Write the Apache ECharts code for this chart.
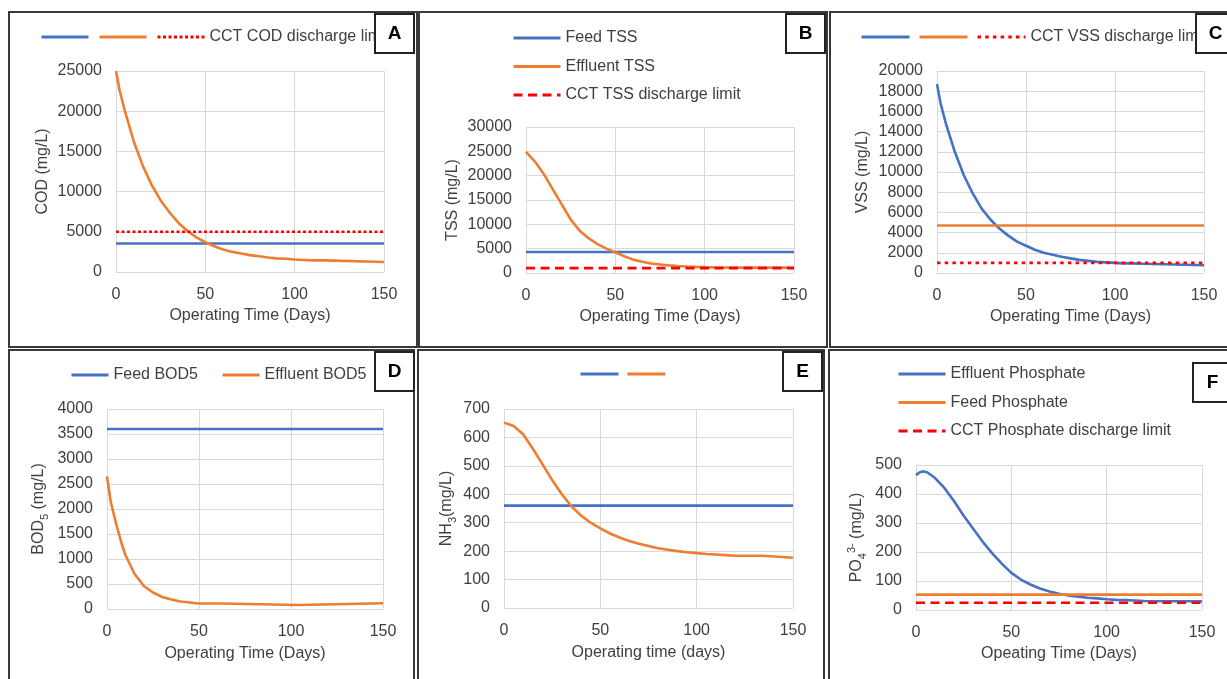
<!DOCTYPE html>
<html><head><meta charset="utf-8">
<script src="https://cdn.jsdelivr.net/npm/echarts@6/dist/echarts.min.js"></script>
<style>html,body{margin:0;padding:0;background:#fff}#c{width:1227px;height:679px}</style>
</head><body><div id="c"></div>
<script>
// ---------- DATA ----------
const xTicks = [0, 50, 100, 150];
// Panel A – COD
const codFeed = [[0, 3550], [150, 3550]];
const codLimit = [[0, 5000], [150, 5000]];
const codEffluent = [[0,25000],[2,22600],[5,20000],[10,16200],[15,13200],[20,10800],[25,8900],[30,7400],[35,6100],[40,5100],[45,4300],[50,3700],[55,3200],[60,2800],[65,2500],[70,2300],[75,2100],[80,1950],[85,1800],[90,1700],[95,1650],[100,1550],[105,1500],[110,1450],[117,1450],[118,1250],[150,1250]];
// Panel B – TSS
const tssFeed = [[0, 4300], [150, 4300]];
const tssLimit = [[0, 1000], [150, 1000]];
const tssEffluent = [[0,24900],[5,22900],[10,20300],[15,17200],[20,14100],[25,11000],[30,8700],[35,7150],[40,5950],[45,5000],[50,4250],[55,3450],[60,2750],[65,2300],[70,1950],[75,1750],[80,1570],[85,1450],[90,1340],[95,1260],[100,1200],[105,1150],[110,1120],[115,1100],[150,1100]];
// Panel C – VSS
const vssFeed = [[0, 4700], [150, 4700]];
const vssLimit = [[0, 1000], [150, 1000]];
const vssEffluent = [[0,18700],[2,16800],[5,14800],[10,12000],[15,9700],[20,7900],[25,6400],[30,5300],[35,4400],[40,3700],[45,3100],[50,2700],[55,2300],[60,2000],[65,1800],[70,1600],[75,1450],[80,1300],[85,1200],[90,1100],[95,1050],[100,1000],[105,950],[110,950],[116,920],[117,780],[150,760]];
// Panel D – BOD5
const bodFeed = [[0, 3600], [150, 3600]];
const bodEffluent = [[0,2650],[2,2150],[5,1700],[8,1300],[10,1080],[15,700],[20,460],[25,330],[30,240],[35,190],[40,150],[45,130],[50,110],[62,110],[63,80],[104,80],[105,115],[150,115]];
// Panel E – NH3
const nh3Feed = [[0, 360], [150, 360]];
const nh3Effluent = [[0,652],[5,640],[10,610],[15,560],[20,505],[25,450],[30,400],[35,358],[40,325],[45,300],[50,280],[55,262],[60,248],[65,236],[70,226],[75,218],[80,210],[85,205],[90,200],[95,196],[100,193],[105,190],[110,188],[115,186],[120,184],[134,184],[135,178],[150,177]];
// Panel F – Phosphate
const po4Feed = [[0, 53], [150, 53]];
const po4Limit = [[0, 25], [150, 25]];
const po4Effluent = [[0,465],[2,475],[4,478],[6,474],[10,455],[15,420],[20,375],[25,325],[30,280],[35,235],[40,195],[45,160],[50,128],[55,105],[60,88],[65,74],[70,64],[75,56],[80,50],[85,46],[90,42],[95,40],[100,37],[105,35],[110,34],[115,33],[120,31],[130,30],[150,30]];

// ---------- STYLE ----------
const BLUE = '#4472C4', ORANGE = '#ED7D31', RED = '#FF0000';
const FONT = 'Liberation Sans, Arial, sans-serif';
const TXT = '#404040';
const GRIDC = '#d9d9d9';

const panels = [
  {grid:{left:116, top:71, width:268, height:201}, ymax:25000, yint:5000, yname:'COD (mg/L)', ygap:65, xname:'Operating Time (Days)', xgap:36},
  {grid:{left:526, top:127, width:268, height:146}, ymax:30000, yint:5000, yname:'TSS (mg/L)', ygap:65, xname:'Operating Time (Days)', xgap:36},
  {grid:{left:937, top:71, width:267, height:202}, ymax:20000, yint:2000, yname:'VSS (mg/L)', ygap:66, xname:'Operating Time (Days)', xgap:36},
  {grid:{left:107, top:409, width:276, height:200}, ymax:4000, yint:500, yname:'{a|BOD}{sub|5}{a| (mg/L)}', ygap:57, xname:'Operating Time (Days)', xgap:37},
  {grid:{left:504, top:409, width:289, height:199}, ymax:700, yint:100, yname:'{a|NH}{sub|3}{a|(mg/L)}', ygap:46, xname:'Operating time (days)', xgap:37},
  {grid:{left:916, top:465, width:286, height:145}, ymax:500, yint:100, yname:'{a|PO}{sub|4}{sup|3-}{a| (mg/L)}', ygap:48, xname:'Opeating Time (Days)', xgap:36}
];

const richName = {
  a: {fontSize:16, fontFamily:FONT, color:TXT, lineHeight:22},
  sub: {fontSize:11, fontFamily:FONT, color:TXT, verticalAlign:'bottom', lineHeight:22, padding:[6,0,0,0]},
  sup: {fontSize:11, fontFamily:FONT, color:TXT, verticalAlign:'top', lineHeight:22, padding:[0,0,6,0]}
};

const grids = [], xAxes = [], yAxes = [];
panels.forEach((p, i) => {
  grids.push(Object.assign({containLabel:false}, p.grid));
  xAxes.push({
    type:'value', gridIndex:i, min:0, max:150, interval:50,
    axisLine:{show:false}, axisTick:{show:false},
    axisLabel:{color:TXT, fontSize:16, fontFamily:FONT, margin:15, formatter: v => String(v)},
    splitLine:{show:true, lineStyle:{color:GRIDC, width:1}},
    name:p.xname, nameLocation:'middle', nameGap:p.xgap,
    nameTextStyle:{color:TXT, fontSize:16, fontFamily:FONT}
  });
  yAxes.push({
    type:'value', gridIndex:i, min:0, max:p.ymax, interval:p.yint,
    axisLine:{show:false}, axisTick:{show:false},
    axisLabel:{color:TXT, fontSize:16, fontFamily:FONT, margin:14, formatter: v => String(v)},
    splitLine:{show:true, lineStyle:{color:GRIDC, width:1}},
    name:p.yname, nameLocation:'middle', nameGap:p.ygap, nameRotate:90,
    nameTextStyle:{color:TXT, fontSize:16, fontFamily:FONT, rich:richName}
  });
});

function line(name, idx, data, color, type, z) {
  return {
    name, type:'line', xAxisIndex:idx, yAxisIndex:idx, data,
    symbol:'none', showSymbol:false, smooth:false, z:z||2,
    lineStyle:{color, width:2.6, type:type||'solid'},
    itemStyle:{color}, animation:false
  };
}
const DOT_A = [3, 2.5], DOT_C = [3.5, 4.2], DASH = [9, 5.5];
const series = [
  line('Feed COD', 0, codFeed, BLUE),
  line('Effluent COD', 0, codEffluent, ORANGE),
  line('CCT COD discharge limit', 0, codLimit, RED, DOT_A, 3),
  line('Feed TSS', 1, tssFeed, BLUE),
  line('Effluent TSS', 1, tssEffluent, ORANGE),
  line('CCT TSS discharge limit', 1, tssLimit, RED, DASH, 3),
  line('Effluent VSS', 2, vssEffluent, BLUE),
  line('Feed VSS', 2, vssFeed, ORANGE),
  line('CCT VSS discharge limit', 2, vssLimit, RED, DOT_C, 3),
  line('Feed BOD5', 3, bodFeed, BLUE),
  line('Effluent BOD5', 3, bodEffluent, ORANGE),
  line('Feed NH3', 4, nh3Feed, BLUE),
  line('Effluent NH3', 4, nh3Effluent, ORANGE),
  line('Effluent Phosphate', 5, po4Effluent, BLUE),
  line('Feed Phosphate', 5, po4Feed, ORANGE),
  line('CCT Phosphate discharge limit', 5, po4Limit, RED, DASH, 3)
];

const hidden = {'Feed COD':1, 'Effluent COD':1, 'Effluent VSS':1, 'Feed VSS':1, 'Feed NH3':1, 'Effluent NH3':1};
function legend(data, opts) {
  return Object.assign({
    data, selectedMode:false, itemHeight:14, padding:0,
    textStyle:{color:TXT, fontSize:16, fontFamily:FONT},
    lineStyle:{width:3},
    itemStyle:{opacity:0},
    formatter: n => hidden[n] ? '' : n
  }, opts);
}
const legends = [
  legend(['Feed COD','Effluent COD','CCT COD discharge limit'], {left:40, top:29, itemWidth:47, itemGap:8}),
  legend(['Feed TSS','Effluent TSS','CCT TSS discharge limit'], {left:512, top:30, itemWidth:47, itemGap:12.5, orient:'vertical'}),
  legend(['Effluent VSS','Feed VSS','CCT VSS discharge limit'], {left:860, top:29, itemWidth:48, itemGap:7}),
  legend(['Feed BOD5','Effluent BOD5'], {left:70, top:367, itemWidth:37, itemGap:23}),
  legend(['Feed NH3','Effluent NH3'], {left:579, top:367, itemWidth:38, itemGap:6}),
  legend(['Effluent Phosphate','Feed Phosphate','CCT Phosphate discharge limit'], {left:897, top:366, itemWidth:47, itemGap:12.5, orient:'vertical'})
];

const frames = [[9,12,408,335],[419,12,408,335],[830,12,410,335],[9,350,405,340],[418,350,406,340],[829,350,411,340]];
const boxes = [['A',375,14,39,39],['B',786,14,39,39],['C',1196,14,40,39],['D',375,352,39,39],['E',783,352,39,39],['F',1193,363,40,39]];
const graphics = [];
frames.forEach(f => graphics.push({type:'rect', z:100, shape:{x:f[0], y:f[1], width:f[2], height:f[3]}, style:{fill:'none', stroke:'#3a3a3a', lineWidth:2}}));
boxes.forEach(b => {
  graphics.push({type:'rect', z:101, shape:{x:b[1], y:b[2], width:b[3], height:b[4]}, style:{fill:'#fff', stroke:'#222', lineWidth:2}});
  graphics.push({type:'text', z:102, x:b[1]+19.5, y:b[2]+20, style:{text:b[0], fill:'#000', font:'bold 19px ' + FONT, textAlign:'center', textVerticalAlign:'middle'}});
});

const chart = echarts.init(document.getElementById('c'), null, {renderer:'canvas'});
chart.setOption({
  animation:false, backgroundColor:'#fff',
  grid:grids, xAxis:xAxes, yAxis:yAxes, series, legend:legends,
  graphic:{elements:graphics}
});
</script></body></html>
